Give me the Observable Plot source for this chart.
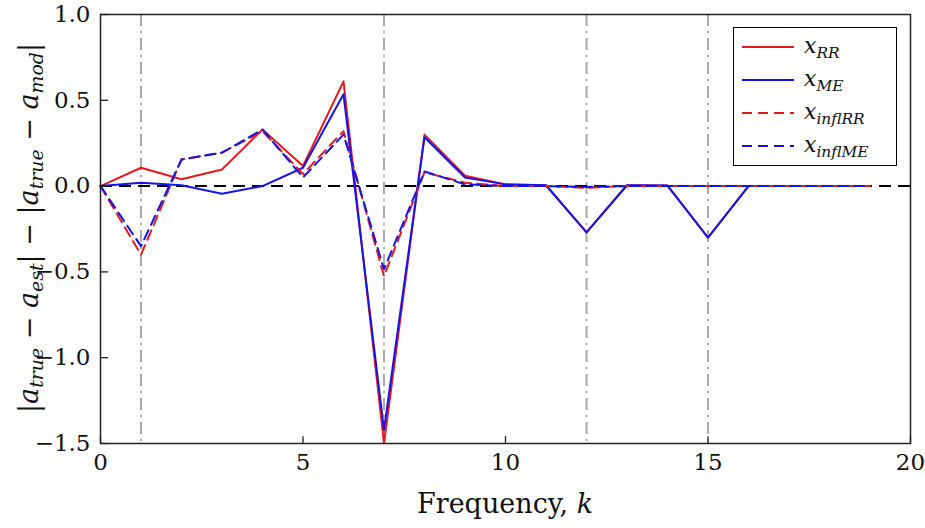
<!DOCTYPE html>
<html><head><meta charset="utf-8">
<script src="https://cdn.jsdelivr.net/npm/d3@7"></script>
<script src="https://cdn.jsdelivr.net/npm/@observablehq/plot@0.6"></script>
<style>
body{margin:0;background:#fff;font-family:'DejaVu Serif','Liberation Serif',serif;}
#wrap{position:relative;width:925px;height:528px;}
svg text{font-family:'DejaVu Serif','Liberation Serif',serif !important;}
.lab{position:absolute;font-size:27px;color:#111;white-space:nowrap;}
i{font-style:italic;}
sub{font-size:0.7em;font-style:italic;vertical-align:-0.3em;}
#leg{position:absolute;left:733px;top:27px;width:162px;height:137px;border:1.3px solid #000;background:#fff;font-size:22px;color:#111;}
.row{position:absolute;left:8px;height:30px;display:flex;align-items:center;}
</style></head><body>
<div id="wrap"></div>
<script>
const k = d3.range(20);
const xRR =     [0,0.107,0.04,0.097,0.33,0.117,0.61,-1.5,0.30,0.06,0.01,0.005,-0.27,0.005,0.003,-0.30,0,0,0,0];
const xME =     [0,0.02,0.005,-0.045,0,0.107,0.535,-1.42,0.285,0.05,0.01,0.005,-0.27,0.005,0.003,-0.30,0,0,0,0];
const xinflRR = [0,-0.40,0.155,0.195,0.32,0.07,0.32,-0.525,0.08,0.02,0,0,-0.01,0,0,0,0,0,0,0];
const xinflME = [0,-0.35,0.155,0.195,0.33,0.05,0.30,-0.485,0.085,0.01,0,0,-0.005,0,0,0,0,0,0,0];
const vlines = [1,7,12,15];
const xTicks = [0,5,10,15,20];
const yTicks = [-1.5,-1,-0.5,0,0.5,1];
const series = [
  {vals:xRR,color:"#e8191c",dash:null},
  {vals:xME,color:"#1414e6",dash:null},
  {vals:xinflRR,color:"#e8191c",dash:"10,6"},
  {vals:xinflME,color:"#1414e6",dash:"10,6"}
];
const marks = [
  Plot.ruleX(vlines,{stroke:"#aaa",strokeWidth:2,strokeDasharray:"12,5,2,5"}),
  Plot.ruleY([0],{stroke:"#000",strokeWidth:2,strokeDasharray:"12,7"}),
];
for(const s of series){
  marks.push(Plot.line(k.map(i=>({k:i,v:s.vals[i]})),{x:"k",y:"v",stroke:s.color,strokeWidth:2,strokeDasharray:s.dash}));
}
marks.push(
  Plot.ruleX(xTicks,{y1:-1.5,y2:-1.5+0.04,stroke:"#222",strokeWidth:1.3}),
  Plot.ruleY(yTicks,{x1:0,x2:0.2,stroke:"#222",strokeWidth:1.3}),
  Plot.frame({stroke:"#222",strokeWidth:1.5})
);
const plot = Plot.plot({
  width:925,height:528,marginLeft:100,marginRight:15,marginTop:14,marginBottom:85,
  x:{domain:[0,20],ticks:xTicks,tickSize:0,tickPadding:10,label:null},
  y:{domain:[-1.5,1],ticks:yTicks,tickSize:0,tickPadding:10,label:null},
  style:{fontSize:"23px",fontFamily:"'DejaVu Serif', serif",color:"#111"},
  marks
});
const wrap=document.getElementById("wrap");
wrap.appendChild(plot);
const xl=document.createElement("div");xl.className="lab";
xl.style.cssText+="left:505px;top:488px;transform:translateX(-50%);";
xl.innerHTML="Frequency, <i>k</i>";wrap.appendChild(xl);
const yl=document.createElement("div");yl.className="lab";
yl.style.cssText+="left:30px;top:228px;transform:translate(-50%,-50%) rotate(-90deg);";
yl.innerHTML="|<i>a</i><sub>true</sub> − <i>a</i><sub>est</sub>| − |<i>a</i><sub>true</sub> − <i>a</i><sub>mod</sub>|";
wrap.appendChild(yl);
const leg=document.createElement("div");leg.id="leg";
const labels=["RR","ME","inflRR","inflME"];
series.forEach((s,i)=>{
  const r=document.createElement("div");r.className="row";r.style.top=(4+i*33)+"px";
  const sw=s.dash
    ? `<svg width="52" height="4" style="margin-right:10px"><line x1="0" y1="2" x2="52" y2="2" stroke="${s.color}" stroke-width="2" stroke-dasharray="10,6"/></svg>`
    : `<svg width="52" height="4" style="margin-right:10px"><line x1="0" y1="2" x2="52" y2="2" stroke="${s.color}" stroke-width="2"/></svg>`;
  r.innerHTML=sw+`<span><i>x</i><sub>${labels[i]}</sub></span>`;
  leg.appendChild(r);
});
wrap.appendChild(leg);
</script></body></html>
